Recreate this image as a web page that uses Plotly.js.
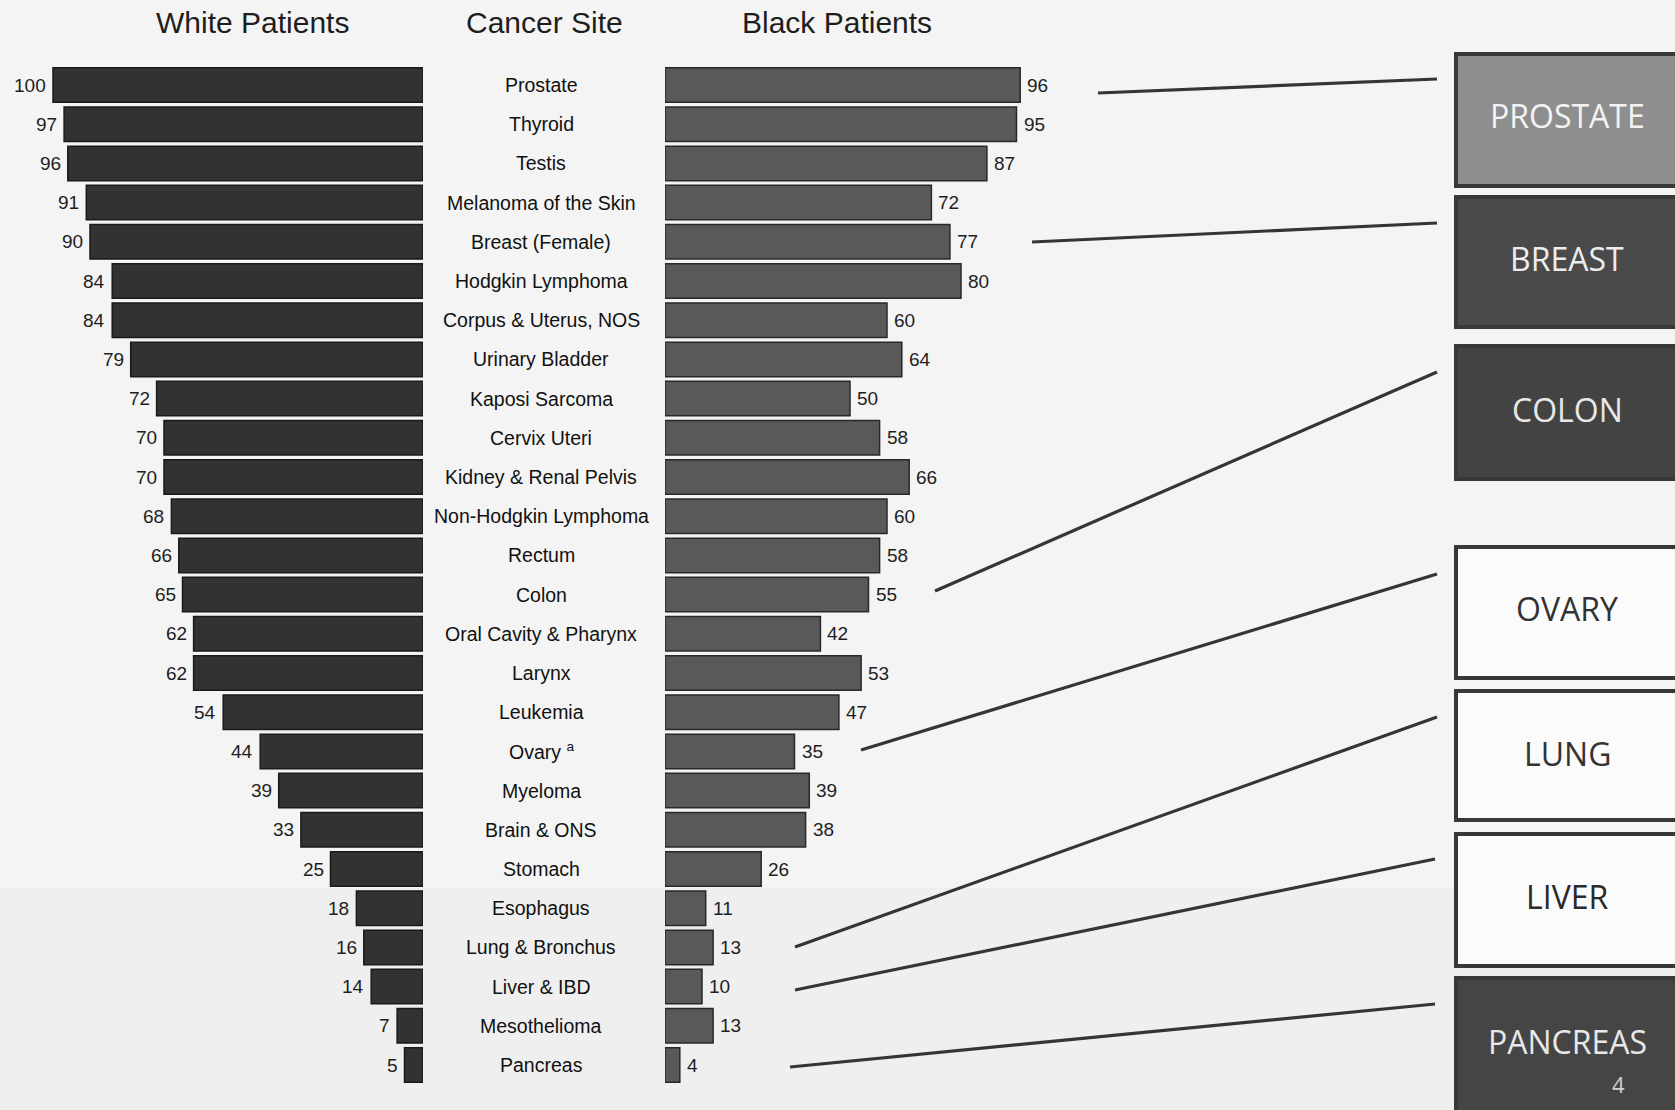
<!DOCTYPE html>
<html>
<head>
<meta charset="utf-8">
<script src="https://cdn.plot.ly/plotly-3.0.1.min.js"></script>
<style>
  html, body { margin: 0; padding: 0; background: #f4f4f4; }
  #chart { width: 1675px; height: 1110px; }
</style>
</head>
<body>
<div id="chart"></div>
<script>
// Five-year relative survival (%) by cancer site, white vs. black patients
const sites = [
  "Prostate", "Thyroid", "Testis", "Melanoma of the Skin", "Breast (Female)",
  "Hodgkin Lymphoma", "Corpus & Uterus, NOS", "Urinary Bladder", "Kaposi Sarcoma",
  "Cervix Uteri", "Kidney & Renal Pelvis", "Non-Hodgkin Lymphoma", "Rectum", "Colon",
  "Oral Cavity & Pharynx", "Larynx", "Leukemia", "Ovary <sup>a</sup>", "Myeloma",
  "Brain & ONS", "Stomach", "Esophagus", "Lung & Bronchus", "Liver & IBD",
  "Mesothelioma", "Pancreas"
];
const whiteSurvival = [100, 97, 96, 91, 90, 84, 84, 79, 72, 70, 70, 68, 66, 65, 62, 62, 54, 44, 39, 33, 25, 18, 16, 14, 7, 5];
const blackSurvival = [96, 95, 87, 72, 77, 80, 60, 64, 50, 58, 66, 60, 58, 55, 42, 53, 47, 35, 39, 38, 26, 11, 13, 10, 13, 4];

const panelTitles = ["White Patients", "Cancer Site", "Black Patients"];
const calloutNames = ["PROSTATE", "BREAST", "COLON", "OVARY", "LUNG", "LIVER", "PANCREAS"];
const pageNumber = "4";

// ---- page geometry (pixels) ----
const W = 1675, H = 1110;
const px = v => v / W;
const py = v => 1 - v / H;
const PX_PER_UNIT = 3.70;
const LEFT_ZERO = 423, RIGHT_ZERO = 665;
const ROW_TOP = 85, ROW_PITCH = 39.2, N = sites.length;

const yTop = 0 - ROW_TOP / ROW_PITCH;
const yBottom = (N - 1) + (H - (ROW_TOP + (N - 1) * ROW_PITCH)) / ROW_PITCH;

const font = "'Liberation Sans', Arial, Helvetica, sans-serif";
const boxFont = "'Open Sans', 'Noto Sans', sans-serif";

const traces = [
  {
    type: "bar", orientation: "h", x: whiteSurvival, y: sites,
    xaxis: "x", yaxis: "y", width: 0.88,
    marker: { color: "#323232", line: { color: "#1a1a1a", width: 1.5 } },
    hoverinfo: "x+y"
  },
  {
    type: "bar", orientation: "h", x: blackSurvival, y: sites,
    xaxis: "x2", yaxis: "y", width: 0.88,
    marker: { color: "#595959", line: { color: "#282828", width: 1.5 } },
    hoverinfo: "x+y"
  }
];

const annotations = [];
// column headings
const titleX = [252, 544, 837];
panelTitles.forEach((t, i) => annotations.push({
  text: t, xref: "paper", yref: "paper", x: px(titleX[i]), y: py(22),
  xanchor: "center", yanchor: "middle", showarrow: false,
  font: { family: font, size: 30, color: "#1e1e1e" }
}));
// site names down the middle
sites.forEach(s => annotations.push({
  text: s, xref: "paper", yref: "y", x: px(541), y: s,
  xanchor: "center", yanchor: "middle", showarrow: false,
  font: { family: font, size: 19.5, color: "#111" }
}));
// value labels at the bar ends
whiteSurvival.forEach((v, i) => annotations.push({
  text: String(v), xref: "x", yref: "y", x: v, y: sites[i],
  xanchor: "right", yanchor: "middle", xshift: -5, showarrow: false,
  font: { family: font, size: 19, color: "#1e1e1e" }
}));
blackSurvival.forEach((v, i) => annotations.push({
  text: String(v), xref: "x2", yref: "y", x: v, y: sites[i],
  xanchor: "left", yanchor: "middle", xshift: 5, showarrow: false,
  font: { family: font, size: 19, color: "#1e1e1e" }
}));

// callout boxes on the right
const boxes = [
  { top: 54,  bottom: 186,  fill: "#8e8e8e", text: "#f3f3f3", ty: 115 },
  { top: 197, bottom: 327,  fill: "#4a4a4a", text: "#ededed", ty: 258 },
  { top: 346, bottom: 479,  fill: "#434343", text: "#e8e8e8", ty: 409 },
  { top: 547, bottom: 678,  fill: "#fbfbfb", text: "#333333", ty: 609 },
  { top: 691, bottom: 820,  fill: "#fbfbfb", text: "#333333", ty: 753 },
  { top: 834, bottom: 966,  fill: "#fbfbfb", text: "#2a2a2a", ty: 896 },
  { top: 978, bottom: 1125, fill: "#454545", text: "#e8e8e8", ty: 1041 }
];
// connector lines: [x0, y0, x1, y1]
const connectors = [
  [1098, 93, 1437, 79],
  [1032, 242, 1437, 223],
  [935, 591, 1437, 372],
  [861, 750, 1437, 574],
  [795, 947, 1437, 717],
  [795, 990, 1435, 859],
  [790, 1067, 1435, 1004]
];

const shapes = [
  // slightly greyer lower part of the sheet
  { type: "rect", xref: "paper", yref: "paper", layer: "below",
    x0: 0, x1: 1, y0: py(H), y1: py(888), fillcolor: "#efefef", line: { width: 0 } }
];
boxes.forEach((b, i) => {
  shapes.push({
    type: "rect", xref: "paper", yref: "paper",
    x0: px(1456), x1: px(1700), y0: py(b.bottom), y1: py(b.top),
    fillcolor: b.fill, line: { color: "#383838", width: 4 }
  });
  annotations.push({
    text: calloutNames[i], xref: "paper", yref: "paper",
    x: px(1567), y: py(b.ty), xanchor: "center", yanchor: "middle", showarrow: false,
    font: { family: boxFont, size: 32, color: b.text }
  });
});
annotations.push({
  text: pageNumber, xref: "paper", yref: "paper", x: px(1618), y: py(1084),
  xanchor: "center", yanchor: "middle", showarrow: false,
  font: { family: boxFont, size: 22, color: "#cfcfcf" }
});
connectors.forEach(c => shapes.push({
  type: "line", xref: "paper", yref: "paper",
  x0: px(c[0]), y0: py(c[1]), x1: px(c[2]), y1: py(c[3]),
  line: { color: "#353535", width: 3.2 }
}));

const hidden = { showgrid: false, zeroline: false, showticklabels: false, ticks: "", showline: false, fixedrange: true };

const layout = {
  width: W, height: H,
  margin: { l: 0, r: 0, t: 0, b: 0 },
  paper_bgcolor: "#f4f4f4", plot_bgcolor: "rgba(0,0,0,0)",
  showlegend: false,
  xaxis: Object.assign({}, hidden, { domain: [0, px(LEFT_ZERO)], range: [LEFT_ZERO / PX_PER_UNIT, 0] }),
  xaxis2: Object.assign({}, hidden, { domain: [px(RIGHT_ZERO), 1], range: [0, (W - RIGHT_ZERO) / PX_PER_UNIT] }),
  yaxis: Object.assign({}, hidden, {
    type: "category", categoryorder: "array", categoryarray: sites,
    range: [yBottom, yTop], domain: [0, 1]
  }),
  annotations: annotations,
  shapes: shapes
};

Plotly.newPlot("chart", traces, layout, { displayModeBar: false, staticPlot: true });
</script>
</body>
</html>
